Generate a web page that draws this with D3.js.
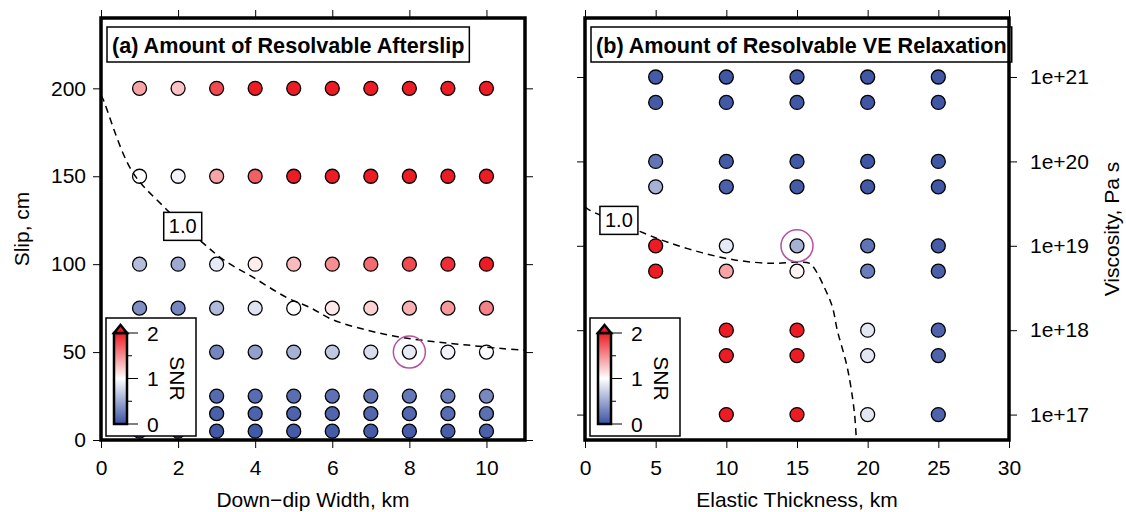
<!DOCTYPE html>
<html>
<head>
<meta charset="utf-8">
<script src="https://cdn.jsdelivr.net/npm/d3@7"></script>
<style>
  body { margin: 0; background: #fff; }
  text { font-family: "Liberation Sans", Arial, Helvetica, sans-serif; }
</style>
</head>
<body>
<svg id="chart" width="1126" height="512"></svg>
<script>
// ---- data: panel (a) afterslip ----
const widthCols = [1, 2, 3, 4, 5, 6, 7, 8, 9, 10];
const slipRows = [200, 150, 100, 75, 50, 25, 15, 5];
const afterslipSNR = [
    [1.4, 1.26, 1.8, 2.2, 2.3, 2.4, 2.5, 2.6, 2.7, 2.8],
    [1.0, 0.93, 1.4, 1.7, 2.1, 2.3, 2.4, 2.5, 2.6, 2.7],
    [0.62, 0.5, 0.88, 1.08, 1.3, 1.5, 1.65, 1.8, 1.92, 2.05],
    [0.35, 0.3, 0.6, 0.84, 1.0, 1.1, 1.2, 1.35, 1.45, 1.55],
    [0.2, 0.2, 0.3, 0.45, 0.55, 0.68, 0.8, 0.88, 0.93, 0.98],
    [0.1, 0.1, 0.14, 0.15, 0.16, 0.18, 0.2, 0.22, 0.25, 0.32],
    [0.06, 0.06, 0.08, 0.09, 0.1, 0.11, 0.12, 0.13, 0.15, 0.17],
    [0.03, 0.03, 0.04, 0.04, 0.05, 0.05, 0.06, 0.06, 0.07, 0.08]
];
const widthTicks = [0, 2, 4, 6, 8, 10];
const slipTicks = [0, 50, 100, 150, 200];
// SNR = 1.0 contour, [width km, slip cm]
const afterslipContour = [
    [0, 196], [0.05, 194], [0.8, 153], [1.66, 132], [2.62, 112.5], [3.21, 102],
    [3.94, 92.6], [4.82, 81], [5.41, 75.5], [6.0, 68.5], [6.9, 62.5], [7.75, 58.5],
    [8.6, 56], [9.5, 54], [10.4, 52], [11, 51]
];
const afterslipLabel = [2.12, 121.5];
const afterslipPick = [8, 50];

// ---- data: panel (b) viscoelastic relaxation ----
const thicknessCols = [5, 10, 15, 20, 25];
const viscosityRows = [1e21, 5e20, 1e20, 5e19, 1e19, 5e18, 1e18, 5e17, 1e17];
const relaxSNR = [
    [0.05, 0.03, 0.03, 0.03, 0.03],
    [0.05, 0.04, 0.03, 0.03, 0.03],
    [0.2, 0.05, 0.04, 0.03, 0.03],
    [0.55, 0.08, 0.05, 0.04, 0.03],
    [2.5, 0.88, 0.55, 0.2, 0.06],
    [2.6, 1.4, 1.05, 0.25, 0.08],
    [2.7, 2.3, 2.1, 0.86, 0.1],
    [2.7, 2.4, 2.2, 0.86, 0.1],
    [2.8, 2.5, 2.3, 0.86, 0.1]
];
const thicknessTicks = [0, 5, 10, 15, 20, 25, 30];
const viscosityTicks = [1e17, 1e18, 1e19, 1e20, 1e21];
const viscosityTickLabels = ['1e+17', '1e+18', '1e+19', '1e+20', '1e+21'];
// SNR = 1.0 contour, [thickness km, viscosity Pa s]
const relaxContour = [
    [0, 2.9e19], [0.35, 2.63e19], [3.88, 1.48e19], [5.86, 1.1e19], [8.26, 8.3e18],
    [10.59, 6.8e18], [13.2, 6.2e18], [15.0, 6.4e18], [15.9, 6.2e18], [16.23, 5.4e18],
    [16.94, 3.2e18], [17.5, 1.9e18], [17.85, 1.0e18], [18.56, 3.6e17], [19.05, 1.1e17],
    [19.2, 5e16]
];
const relaxLabel = [2.4, 2.0e19];
const relaxPick = [15, 1e19];

// ---- colour scale ----
const snrStops = [0, 1, 2];
const snrColors = ['#3a52a3', '#ffffff', '#ed1c24'];
const snrTicks = [0, 1, 2];
const snrMinorTicks = [0.5, 1.5];
const snrColor = d3.scaleLinear().domain(snrStops).range(snrColors).clamp(true);

const svg = d3.select('#chart');
const grad = svg.append('defs').append('linearGradient')
    .attr('id', 'snrGrad')
    .attr('x1', 0).attr('y1', 1).attr('x2', 0).attr('y2', 0);
grad.selectAll('stop').data(snrStops).join('stop')
    .attr('offset', d => d / 2)
    .attr('stop-color', (d, i) => snrColors[i]);

const TOP = 18, BOTTOM = 440;

function drawPanel(p) {
    const x = d3.scaleLinear().domain(p.xDomain).range([p.left, p.right]);
    const y = p.yScale.range([BOTTOM, TOP]);
    const g = svg.append('g');

    g.append('clipPath').attr('id', 'clip' + p.id)
        .append('rect')
        .attr('x', p.left).attr('y', TOP)
        .attr('width', p.right - p.left).attr('height', BOTTOM - TOP);

    // ticks on all four sides, labels only where the panel has them
    const styleAxis = a => {
        a.select('.domain').remove();
        a.selectAll('line').attr('stroke', '#000').attr('stroke-width', 1);
        a.selectAll('text').attr('font-size', 21).attr('fill', '#000');
    };
    g.append('g').attr('transform', `translate(0,${BOTTOM})`)
        .call(d3.axisBottom(x).tickValues(p.xTicks).tickSize(8).tickPadding(12))
        .call(styleAxis);
    g.append('g').attr('transform', `translate(0,${TOP})`)
        .call(d3.axisTop(x).tickValues(p.xTicks).tickSize(8).tickFormat(''))
        .call(styleAxis);
    g.append('g').attr('transform', `translate(${p.left},0)`)
        .call(d3.axisLeft(y).tickValues(p.yTicks).tickSize(8).tickPadding(7)
            .tickFormat(p.yLabelSide === 'left' ? p.yFormat : ''))
        .call(styleAxis);
    g.append('g').attr('transform', `translate(${p.right},0)`)
        .call(d3.axisRight(y).tickValues(p.yTicks).tickSize(8).tickPadding(13)
            .tickFormat(p.yLabelSide === 'right' ? p.yFormat : ''))
        .call(styleAxis);

    // dots
    const cells = [];
    p.rows.forEach((r, i) => p.cols.forEach((c, j) => cells.push({x: c, y: r, v: p.values[i][j]})));
    g.append('g').selectAll('circle').data(cells).join('circle')
        .attr('cx', d => x(d.x))
        .attr('cy', d => y(d.y))
        .attr('r', 7)
        .attr('fill', d => snrColor(d.v))
        .attr('stroke', '#000')
        .attr('stroke-width', 1.3);

    // SNR = 1 contour
    g.append('path')
        .attr('clip-path', `url(#clip${p.id})`)
        .attr('d', d3.line().x(d => x(d[0])).y(d => y(d[1])).curve(d3.curveCatmullRom)(p.contour))
        .attr('fill', 'none')
        .attr('stroke', '#000')
        .attr('stroke-width', 1.5)
        .attr('stroke-dasharray', '7,5');

    const lx = x(p.label[0]), ly = y(p.label[1]);
    g.append('rect')
        .attr('x', lx - 19).attr('y', ly - 14)
        .attr('width', 38).attr('height', 28)
        .attr('fill', '#fff').attr('stroke', '#000').attr('stroke-width', 1.5);
    g.append('text')
        .attr('x', lx).attr('y', ly + 7)
        .attr('text-anchor', 'middle')
        .attr('font-size', 20)
        .text('1.0');

    // picked model
    g.append('circle')
        .attr('cx', x(p.pick[0])).attr('cy', y(p.pick[1]))
        .attr('r', 16)
        .attr('fill', 'none')
        .attr('stroke', '#b5529f')
        .attr('stroke-width', 1.5);

    drawLegend(g, p.left);

    // title box
    const title = g.append('text')
        .attr('x', p.left + 11).attr('y', 53)
        .attr('font-size', 21.6)
        .attr('font-weight', 'bold')
        .text(p.title);
    const tw = title.node().getComputedTextLength();
    g.insert('rect', () => title.node())
        .attr('x', p.left + 6).attr('y', 27)
        .attr('width', tw + 10).attr('height', 35)
        .attr('fill', '#fff').attr('stroke', '#000').attr('stroke-width', 1.5);

    // frame
    g.append('rect')
        .attr('x', p.left).attr('y', TOP)
        .attr('width', p.right - p.left).attr('height', BOTTOM - TOP)
        .attr('fill', 'none').attr('stroke', '#000').attr('stroke-width', 3.5);

    // axis titles
    g.append('text')
        .attr('x', (p.left + p.right) / 2).attr('y', 507)
        .attr('text-anchor', 'middle').attr('font-size', 21)
        .text(p.xTitle);
    const yt = p.yLabelSide === 'left' ? 22 : 1112;
    g.append('text')
        .attr('transform', `translate(${yt},${(TOP + BOTTOM) / 2}) rotate(-90)`)
        .attr('text-anchor', 'middle').attr('dy', '0.35em').attr('font-size', 21)
        .text(p.yTitle);
}

function drawLegend(g, left) {
    const s = d3.scaleLinear().domain([0, 2]).range([424, 333]);
    const bx = left + 13, bw = 13;
    const lg = g.append('g');
    lg.append('rect')
        .attr('x', left + 5).attr('y', 318).attr('width', 90).attr('height', 118)
        .attr('fill', '#fff').attr('stroke', '#000').attr('stroke-width', 1.5);
    lg.append('rect')
        .attr('x', bx).attr('y', s(2)).attr('width', bw).attr('height', s(0) - s(2))
        .attr('fill', 'url(#snrGrad)').attr('stroke', '#000').attr('stroke-width', 2.5);
    lg.append('path')
        .attr('d', `M${bx},${s(2)} L${bx + bw / 2},${s(2) - 8} L${bx + bw},${s(2)} Z`)
        .attr('fill', snrColors[2]).attr('stroke', '#000').attr('stroke-width', 2.5)
        .attr('stroke-linejoin', 'miter');
    lg.selectAll('line.major').data(snrTicks).join('line')
        .attr('x1', bx + bw).attr('x2', bx + bw + 11)
        .attr('y1', d => s(d)).attr('y2', d => s(d))
        .attr('stroke', '#000').attr('stroke-width', 1);
    lg.selectAll('line.minor').data(snrMinorTicks).join('line')
        .attr('x1', bx + bw).attr('x2', bx + bw + 5)
        .attr('y1', d => s(d)).attr('y2', d => s(d))
        .attr('stroke', '#000').attr('stroke-width', 1);
    lg.selectAll('text.tl').data(snrTicks).join('text')
        .attr('x', bx + bw + 20).attr('y', d => s(d))
        .attr('dy', '0.36em').attr('font-size', 21)
        .text(d => d);
    lg.append('text')
        .attr('transform', `translate(${left + 76},${s(1)}) rotate(90)`)
        .attr('text-anchor', 'middle').attr('dy', '0.35em').attr('font-size', 21)
        .text('SNR');
}

drawPanel({
    id: 'a', left: 101, right: 525,
    xDomain: [0, 11], xTicks: widthTicks,
    yScale: d3.scaleLinear().domain([0, 240]), yTicks: slipTicks,
    yFormat: d => d, yLabelSide: 'left',
    cols: widthCols, rows: slipRows, values: afterslipSNR,
    contour: afterslipContour, label: afterslipLabel, pick: afterslipPick,
    title: '(a) Amount of Resolvable Afterslip',
    xTitle: 'Down\u2212dip Width, km', yTitle: 'Slip, cm'
});

drawPanel({
    id: 'b', left: 585, right: 1009,
    xDomain: [0, 30], xTicks: thicknessTicks,
    yScale: d3.scaleLog().domain([5e16, 5e21]), yTicks: viscosityTicks,
    yFormat: (d, i) => viscosityTickLabels[i], yLabelSide: 'right',
    cols: thicknessCols, rows: viscosityRows, values: relaxSNR,
    contour: relaxContour, label: relaxLabel, pick: relaxPick,
    title: '(b) Amount of Resolvable VE Relaxation',
    xTitle: 'Elastic Thickness, km', yTitle: 'Viscosity, Pa s'
});
</script>
</body>
</html>
